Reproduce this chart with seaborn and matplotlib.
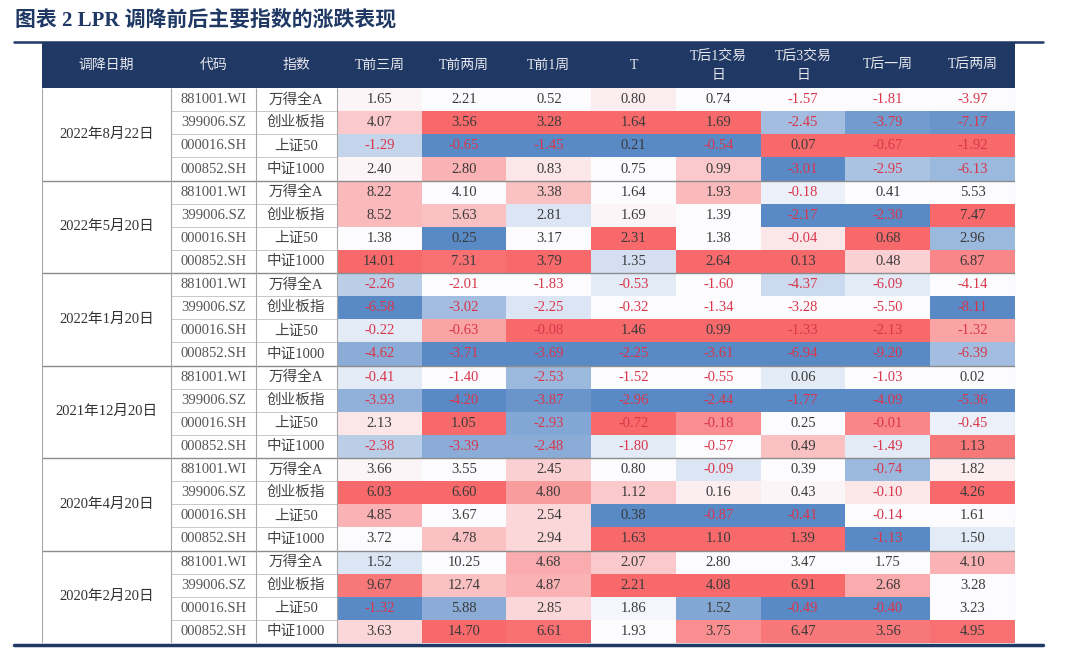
import numpy as np
import pandas as pd
import matplotlib
matplotlib.use('Agg')
import matplotlib.pyplot as plt
from matplotlib.colors import LinearSegmentedColormap
from matplotlib.patches import Rectangle
from matplotlib.lines import Line2D
import seaborn as sns

sns.set_style('white')
plt.rcParams['font.family'] = ['Liberation Serif', 'Noto Sans CJK SC', 'DejaVu Sans']

# 表格内容
dates = ['2022年8月22日', '2022年5月20日', '2022年1月20日',
         '2021年12月20日', '2020年4月20日', '2020年2月20日']
codes = ['881001.WI', '399006.SZ', '000016.SH', '000852.SH']
names = ['万得全A', '创业板指', '上证50', '中证1000']
periods = ['T前三周', 'T前两周', 'T前1周', 'T', 'T后1交易\n日', 'T后3交易\n日', 'T后一周', 'T后两周']

# 涨跌幅(%)，每个日期4行（万得全A/创业板指/上证50/中证1000）
chg_20220822 = [[1.65, 2.21, 0.52, 0.80, 0.74, -1.57, -1.81, -3.97],
                [4.07, 3.56, 3.28, 1.64, 1.69, -2.45, -3.79, -7.17],
                [-1.29, -0.65, -1.45, 0.21, -0.54, 0.07, -0.67, -1.92],
                [2.40, 2.80, 0.83, 0.75, 0.99, -3.01, -2.95, -6.13]]
chg_20220520 = [[8.22, 4.10, 3.38, 1.64, 1.93, -0.18, 0.41, 5.53],
                [8.52, 5.63, 2.81, 1.69, 1.39, -2.17, -2.30, 7.47],
                [1.38, 0.25, 3.17, 2.31, 1.38, -0.04, 0.68, 2.96],
                [14.01, 7.31, 3.79, 1.35, 2.64, 0.13, 0.48, 6.87]]
chg_20220120 = [[-2.26, -2.01, -1.83, -0.53, -1.60, -4.37, -6.09, -4.14],
                [-6.58, -3.02, -2.25, -0.32, -1.34, -3.28, -5.50, -8.11],
                [-0.22, -0.63, -0.08, 1.46, 0.99, -1.33, -2.13, -1.32],
                [-4.62, -3.71, -3.69, -2.25, -3.61, -6.94, -9.20, -6.39]]
chg_20211220 = [[-0.41, -1.40, -2.53, -1.52, -0.55, 0.06, -1.03, 0.02],
                [-3.93, -4.20, -3.87, -2.96, -2.44, -1.77, -4.09, -5.36],
                [2.13, 1.05, -2.93, -0.72, -0.18, 0.25, -0.01, -0.45],
                [-2.38, -3.39, -2.48, -1.80, -0.57, 0.49, -1.49, 1.13]]
chg_20200420 = [[3.66, 3.55, 2.45, 0.80, -0.09, 0.39, -0.74, 1.82],
                [6.03, 6.60, 4.80, 1.12, 0.16, 0.43, -0.10, 4.26],
                [4.85, 3.67, 2.54, 0.38, -0.87, -0.41, -0.14, 1.61],
                [3.72, 4.78, 2.94, 1.63, 1.10, 1.39, -1.13, 1.50]]
chg_20200220 = [[1.52, 10.25, 4.68, 2.07, 2.80, 3.47, 1.75, 4.10],
                [9.67, 12.74, 4.87, 2.21, 4.08, 6.91, 2.68, 3.28],
                [-1.32, 5.88, 2.85, 1.86, 1.52, -0.49, -0.40, 3.23],
                [3.63, 14.70, 6.61, 1.93, 3.75, 6.47, 3.56, 4.95]]

# 色阶深浅（-1 蓝 … 0 白 … 1 红）
shade_20220822 = [[0.05, 0.0, 0.0, 0.1, 0.0, 0.0, 0.0, 0.0],
                  [0.35, 1.0, 1.0, 1.0, 1.0, -0.55, -0.85, -0.9],
                  [-0.35, -1.0, -1.0, -1.0, -1.0, 1.0, 1.0, 1.0],
                  [0.05, 0.5, 0.15, 0.0, 0.35, -1.0, -0.5, -0.6]]
shade_20220520 = [[0.45, 0.0, 0.4, 0.0, 0.45, -0.1, 0.0, 0.0],
                  [0.45, 0.4, -0.2, 0.05, 0.0, -1.0, -1.0, 1.0],
                  [0.0, -1.0, 0.0, 1.0, 0.0, 0.15, 1.0, -0.6],
                  [1.0, 0.95, 1.0, -0.25, 1.0, 1.0, 0.3, 0.8]]
shade_20220120 = [[-0.4, 0.0, 0.0, -0.15, 0.0, -0.3, -0.15, 0.0],
                  [-1.0, -0.55, -0.2, 0.0, 0.0, 0.0, 0.0, -1.0],
                  [-0.15, 0.6, 1.0, 1.0, 1.0, 1.0, 1.0, 0.6],
                  [-0.7, -1.0, -1.0, -1.0, -1.0, -1.0, -1.0, -0.55]]
shade_20211220 = [[-0.15, 0.0, -0.6, 0.0, 0.0, -0.15, 0.0, 0.0],
                  [-0.65, -1.0, -0.9, -1.0, -1.0, -1.0, -1.0, -1.0],
                  [0.15, 1.0, -0.75, 1.0, 0.75, 0.0, 0.8, -0.1],
                  [-0.4, -0.7, -0.7, -0.15, 0.0, 0.4, -0.15, 0.9]]
shade_20200420 = [[0.05, 0.0, 0.3, 0.0, -0.2, 0.0, -0.6, 0.1],
                  [1.0, 1.0, 0.65, 0.35, 0.1, 0.05, 0.15, 1.0],
                  [0.5, 0.0, 0.25, -1.0, -1.0, -1.0, 0.0, 0.0],
                  [0.0, 0.4, 0.25, 1.0, 1.0, 1.0, -1.0, -0.15]]
shade_20200220 = [[-0.2, 0.0, 0.55, 0.35, 0.0, 0.0, 0.0, 0.5],
                  [0.9, 0.4, 0.5, 1.0, 1.0, 1.0, 0.55, 0.0],
                  [-1.0, -0.7, 0.25, -0.05, -0.75, -1.0, -1.0, 0.0],
                  [0.25, 1.0, 0.95, 0.0, 0.75, 0.9, 0.9, 0.95]]

chg = np.vstack([chg_20220822, chg_20220520, chg_20220120,
                 chg_20211220, chg_20200420, chg_20200220])
shade = np.vstack([shade_20220822, shade_20220520, shade_20220120,
                   shade_20211220, shade_20200420, shade_20200220])
df_shade = pd.DataFrame(shade, columns=periods)

navy = '#1F3864'
neg_color = '#D9364B'
pos_color = '#3A3A3A'
cmap = LinearSegmentedColormap.from_list('bwr_excel', ['#5A8AC6', '#FCFCFF', '#F8696B'])

fig = plt.figure(figsize=(10.65, 6.51), dpi=100)
# 表格区域：x 42-1015 px, y 43-643 px
ax = fig.add_axes([42 / 1065, (651 - 643) / 651, (1015 - 42) / 1065, 600 / 651])

sns.heatmap(df_shade, cmap=cmap, vmin=-1, vmax=1, annot=chg, fmt='.2f', cbar=False,
            xticklabels=False, yticklabels=False, ax=ax,
            annot_kws={'fontsize': 10.5})
for t in ax.texts:
    t.set_color(neg_color if t.get_text().startswith('-') else pos_color)

# 左侧三列宽度（以数值列宽为单位）
w_date, w_code, w_name = 1.52, 1.0, 0.96
x0 = -(w_date + w_code + w_name)
head_h = 1.95
ax.set_xlim(x0, len(periods))
ax.set_ylim(len(chg), -head_h)
ax.axis('off')

# 表头
ax.add_patch(Rectangle((x0, -head_h), len(periods) - x0, head_h, facecolor=navy,
                       edgecolor='none', clip_on=False))
head_x = [x0 + w_date / 2, x0 + w_date + w_code / 2, -w_name / 2]
for hx, lab in zip(head_x, ['调降日期', '代码', '指数']):
    ax.text(hx, -head_h / 2, lab, ha='center', va='center', color='#E8E8EE', fontsize=10)
for i, lab in enumerate(periods):
    ax.text(i + 0.5, -head_h / 2, lab, ha='center', va='center', color='#E8E8EE',
            fontsize=10, linespacing=1.6)

# 左侧文字列
for g, d in enumerate(dates):
    ax.text(x0 + w_date / 2, g * 4 + 2, d, ha='center', va='center', color='#333333', fontsize=10.5)
    for r in range(4):
        y = g * 4 + r + 0.5
        ax.text(head_x[1], y, codes[r], ha='center', va='center', color='#555555', fontsize=10.5)
        ax.text(head_x[2], y, names[r], ha='center', va='center', color='#444444', fontsize=10.5)

# 网格线
n = len(chg)
for y in range(1, n):
    if y % 4 == 0:
        ax.hlines(y, x0, len(periods), color='#8C8C8C', lw=1.0)
    else:
        ax.hlines(y, x0 + w_date, 0, color='#C8C8C8', lw=0.7)
for x in [x0, x0 + w_date, x0 + w_date + w_code, 0, len(periods)]:
    ax.vlines(x, 0, n, color='#A6A6A6', lw=0.8)

# 标题与装饰线
fig.text(15 / 1065, 1 - 20 / 651, '图表 2 LPR 调降前后主要指数的涨跌表现',
         ha='left', va='center', fontsize=15, fontweight='bold', color=navy)
fig.add_artist(Line2D([14 / 1065, 1043 / 1065], [1 - 41.5 / 651] * 2, color=navy, lw=1.8))
fig.add_artist(Line2D([14 / 1065, 1043 / 1065], [1 - 645 / 651] * 2, color=navy, lw=2.5))

fig.savefig('out.png', dpi=100)
